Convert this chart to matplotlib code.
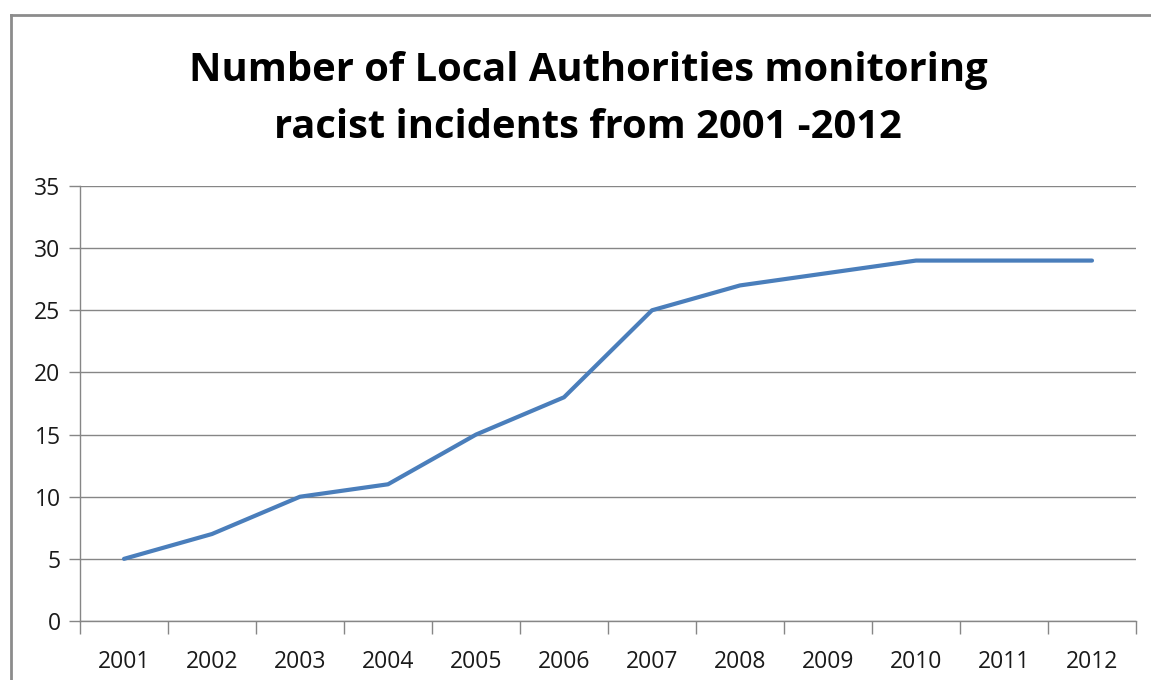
import matplotlib.pyplot as plt
from matplotlib.lines import Line2D

# Local authorities monitoring racist incidents per year
years = ['2001', '2002', '2003', '2004', '2005', '2006',
         '2007', '2008', '2009', '2010', '2011', '2012']
authorities = [5, 7, 10, 11, 15, 18, 25, 27, 28, 29, 29, 29]
y_ticks = [0, 5, 10, 15, 20, 25, 30, 35]

W, H = 1151, 680
fig = plt.figure(figsize=(W / 100, H / 100), dpi=100)
grey = '#868686'

# chart frame (only top and left edges fall inside the image)
fig.add_artist(Line2D([11 / W, 1.01], [1 - 15 / H, 1 - 15 / H],
                      transform=fig.transFigure, color='#8c8c8c', lw=2))
fig.add_artist(Line2D([11 / W, 11 / W], [-0.01, 1 - 15 / H],
                      transform=fig.transFigure, color='#8c8c8c', lw=2))

ax = fig.add_axes([80 / W, 1 - 621 / H, (1136 - 80) / W, (621 - 186) / H])
x = list(range(len(years)))
ax.plot(x, authorities, color='#4A7EBB', lw=3, solid_capstyle='round')

ax.set_xlim(-0.5, len(years) - 0.5)
ax.set_ylim(0, 35)
ax.set_yticks(y_ticks)
ax.set_yticklabels([str(v) for v in y_ticks])
ax.set_xticks(x)
ax.set_xticklabels(years)
ax.set_xticks([i - 0.5 for i in range(len(years) + 1)], minor=True)

ax.tick_params(axis='x', which='major', length=0, pad=21,
               labelsize=16.5, labelcolor='#1a1a1a')
ax.tick_params(axis='x', which='minor', length=9, width=1, color=grey)
ax.tick_params(axis='y', length=8, width=1, color=grey, pad=6,
               labelsize=16.5, labelcolor='#1a1a1a')
for lbl in ax.get_xticklabels() + ax.get_yticklabels():
    lbl.set_family('Open Sans')

ax.grid(axis='y', color=grey, lw=1)
ax.set_axisbelow(True)
for side in ('top', 'right'):
    ax.spines[side].set_visible(False)
for side in ('left', 'bottom'):
    ax.spines[side].set_color(grey)
    ax.spines[side].set_linewidth(1)

fig.text(588 / W, 1 - 99 / H,
         'Number of Local Authorities monitoring\nracist incidents from 2001 -2012',
         ha='center', va='center', fontsize=28.7, fontweight='bold',
         family='Open Sans', linespacing=1.62)

fig.savefig('out.png', dpi=100)
